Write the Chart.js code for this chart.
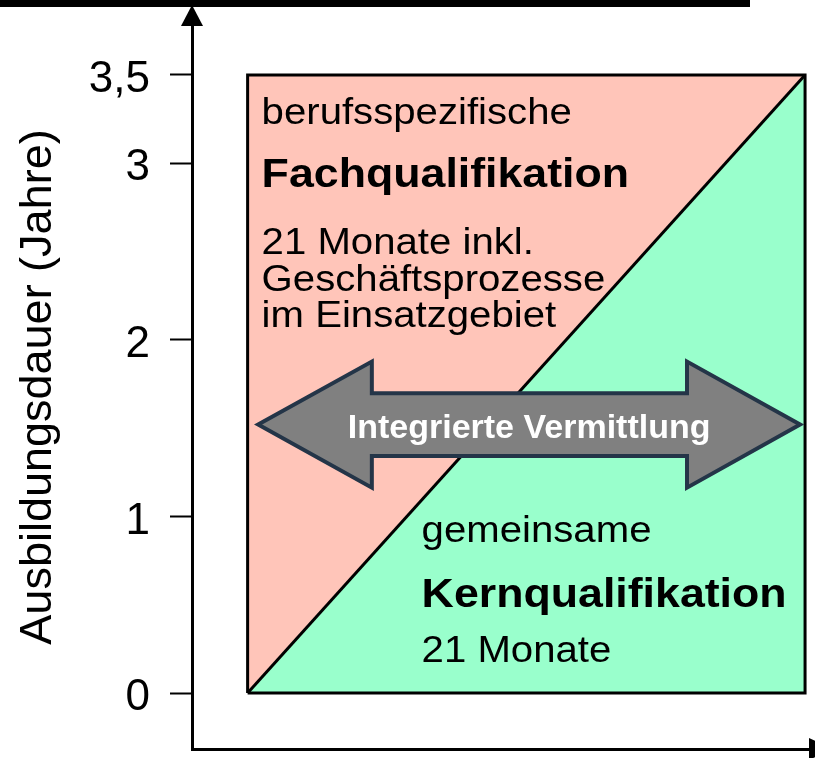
<!DOCTYPE html>
<html>
<head>
<meta charset="utf-8">
<script src="https://cdn.jsdelivr.net/npm/chart.js@4"></script>
<style>
  body { margin: 0; background: #fff; }
</style>
</head>
<body>
<canvas id="dauer" width="815" height="758"></canvas>
<script>
// Werte
var yTickValues = [0, 1, 2, 3, 3.5];
var yTickLabels = ['0', '1', '2', '3', '3,5'];
var yTitle = 'Ausbildungsdauer (Jahre)';
var boxX = [9, 99.2];          // waagerechte Ausdehnung des Kastens
var boxTop = 3.5;              // Jahre gesamt
var diagonalY = [0, 3.5];
var upperLines = ['berufsspezifische', 'Fachqualifikation', '21 Monate inkl.', 'Geschäftsprozesse', 'im Einsatzgebiet'];
var lowerLines = ['gemeinsame', 'Kernqualifikation', '21 Monate'];
var arrowLabel = 'Integrierte Vermittlung';
var arrowLevel = 1.52;

var FONT = '"Liberation Sans", Arial, sans-serif';

function stretchText(ctx, txt, x, y, font, sx) {
  ctx.save();
  ctx.font = font;
  ctx.translate(x, y);
  ctx.scale(sx, 1);
  ctx.fillText(txt, 0, 0);
  ctx.restore();
}

var deko = {
  id: 'deko',
  beforeDraw: function (chart) {
    var ctx = chart.ctx;
    ctx.save();
    ctx.fillStyle = '#000';
    ctx.fillRect(0, 0, 750, 7);   // Balken oben
    ctx.restore();
  },
  afterDraw: function (chart) {
    var ctx = chart.ctx, a = chart.chartArea;
    var xs = chart.scales.x, ys = chart.scales.y;
    ctx.save();
    // Achsenpfeile
    ctx.fillStyle = '#000';
    ctx.beginPath();
    ctx.moveTo(a.left, a.top - 20);
    ctx.lineTo(a.left - 11, a.top + 1);
    ctx.lineTo(a.left + 11, a.top + 1);
    ctx.closePath();
    ctx.fill();
    ctx.beginPath();
    ctx.moveTo(a.right + 22, a.bottom);
    ctx.lineTo(a.right - 1, a.bottom - 11);
    ctx.lineTo(a.right - 1, a.bottom + 11);
    ctx.closePath();
    ctx.fill();

    // Doppelpfeil
    var cy = ys.getPixelForValue(arrowLevel);
    var hh = ys.getPixelForValue(0) - ys.getPixelForValue(0.357);
    var bh = ys.getPixelForValue(0) - ys.getPixelForValue(0.178);
    var lt = xs.getPixelForValue(10.7), lb = xs.getPixelForValue(29.1);
    var rt = xs.getPixelForValue(98.4), rb = xs.getPixelForValue(80.1);
    ctx.beginPath();
    ctx.moveTo(lt, cy);
    ctx.lineTo(lb, cy - hh);
    ctx.lineTo(lb, cy - bh);
    ctx.lineTo(rb, cy - bh);
    ctx.lineTo(rb, cy - hh);
    ctx.lineTo(rt, cy);
    ctx.lineTo(rb, cy + hh);
    ctx.lineTo(rb, cy + bh);
    ctx.lineTo(lb, cy + bh);
    ctx.lineTo(lb, cy + hh);
    ctx.closePath();
    ctx.fillStyle = '#808080';
    ctx.fill();
    ctx.lineWidth = 4;
    ctx.lineJoin = 'miter';
    ctx.strokeStyle = '#243548';
    ctx.stroke();
    ctx.fillStyle = '#fff';
    ctx.font = 'bold 34px ' + FONT;
    ctx.textAlign = 'center';
    ctx.textBaseline = 'alphabetic';
    ctx.fillText(arrowLabel, (lt + rt) / 2, cy + 13);

    // Beschriftung im Kasten
    ctx.fillStyle = '#000';
    ctx.textAlign = 'left';
    var left = xs.getPixelForValue(boxX[0]);
    var top = ys.getPixelForValue(boxTop);
    var bottom = ys.getPixelForValue(0);
    var upperBase = [49, 112, 179, 216, 252];
    upperLines.forEach(function (t, i) {
      var bold = i === 1;
      stretchText(ctx, t, left + 14, top + upperBase[i],
        bold ? 'bold 41px ' + FONT : '37px ' + FONT, bold ? 1.09 : 1.085);
    });
    var lowerBase = [-151, -86, -31];
    lowerLines.forEach(function (t, i) {
      var bold = i === 1;
      stretchText(ctx, t, left + 174, bottom + lowerBase[i],
        bold ? 'bold 41px ' + FONT : '37px ' + FONT, bold ? 1.09 : 1.085);
    });
    ctx.restore();
  }
};

var ctx = document.getElementById('dauer').getContext('2d');
var myChart = new Chart(ctx, {
  type: 'line',
  data: {
    datasets: [{
      // Umrandung
      data: [
        {x: boxX[0], y: 0}, {x: boxX[0], y: boxTop}, {x: boxX[1], y: boxTop},
        {x: boxX[1], y: 0}, {x: boxX[0], y: 0}
      ],
      borderColor: '#000',
      borderWidth: 3,
      fill: false,
    }, {
      // Kernqualifikation
      data: [{x: boxX[0], y: diagonalY[0]}, {x: boxX[1], y: diagonalY[1]}],
      borderColor: '#000',
      borderWidth: 3,
      backgroundColor: '#99ffcc',
      fill: {value: 0},
    }, {
      // Fachqualifikation
      data: [{x: boxX[0], y: boxTop}, {x: boxX[1], y: boxTop}],
      borderWidth: 0,
      borderColor: 'rgba(0,0,0,0)',
      backgroundColor: '#ffc5b9',
      fill: {value: 0},
    }],
  },
  options: {
    responsive: false,
    animation: false,
    layout: { padding: { top: 25, right: 5, left: 0, bottom: 0 } },
    elements: { point: { radius: 0 }, line: { tension: 0, borderJoinStyle: 'miter' } },
    plugins: { legend: { display: false }, tooltip: { enabled: false } },
    scales: {
      x: {
        type: 'linear',
        min: 0,
        max: 100,
        grid: { display: false },
        ticks: { display: false },
        border: { color: '#000', width: 3 },
        afterFit: function (s) { s.height = 9; s.paddingLeft = 0; s.paddingRight = 0; },
      },
      y: {
        min: -0.317,
        max: 3.783,
        afterBuildTicks: function (s) {
          s.ticks = yTickValues.map(function (v) { return {value: v}; });
        },
        afterFit: function (s) {
          s.width = 192;
          s.paddingTop = 0; s.paddingBottom = 0;
        },
        grid: {
          display: true,
          drawOnChartArea: false,
          drawTicks: true,
          tickLength: 22,
          tickWidth: 2,
          tickColor: '#000',
        },
        border: { color: '#000', width: 3 },
        ticks: {
          color: '#000',
          padding: 20,
          labelOffset: 5,
          font: { family: FONT, size: 44 },
          callback: function (v) {
            var i = yTickValues.indexOf(v);
            return i >= 0 ? yTickLabels[i] : '';
          },
        },
        title: {
          display: true,
          text: yTitle,
          color: '#000',
          padding: { top: 12 },
          font: { family: FONT, size: 45 },
        },
      },
    },
  },
  plugins: [deko],
});
</script>
</body>
</html>
